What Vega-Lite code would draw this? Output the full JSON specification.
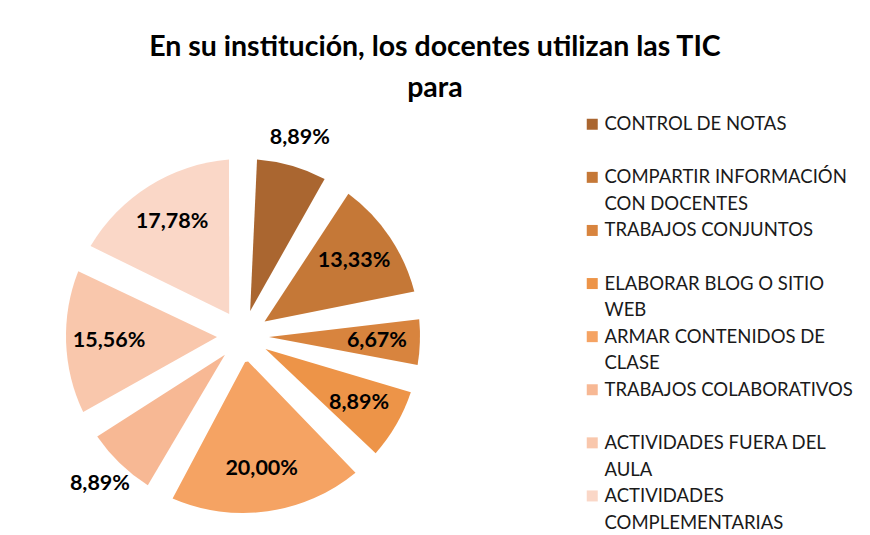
{
  "$schema": "https://vega.github.io/schema/vega-lite/v6.json",
  "width": 484,
  "height": 442,
  "autosize": {"type": "pad"},
  "padding": {"left": 0, "top": 32, "right": 10, "bottom": 0},
  "background": "white",
  "config": {"style": {"guide-label": {"lineHeight": 26.7}}},
  "title": {
    "text": ["En su institución, los docentes utilizan las TIC", "para"],
    "font": "Lato",
    "fontSize": 28.5,
    "fontWeight": "bold",
    "color": "#000000",
    "lineHeight": 41,
    "anchor": "middle",
    "frame": "bounds",
    "offset": 13,
    "dx": 8
  },
  "data": {
    "values": [
      {"orden": 1, "uso": "CONTROL DE NOTAS", "porcentaje": 8.89},
      {"orden": 2, "uso": "COMPARTIR INFORMACIÓN CON DOCENTES", "porcentaje": 13.33},
      {"orden": 3, "uso": "TRABAJOS CONJUNTOS", "porcentaje": 6.67},
      {"orden": 4, "uso": "ELABORAR BLOG O SITIO WEB", "porcentaje": 8.89},
      {"orden": 5, "uso": "ARMAR CONTENIDOS DE CLASE", "porcentaje": 20.00},
      {"orden": 6, "uso": "TRABAJOS COLABORATIVOS", "porcentaje": 8.89},
      {"orden": 7, "uso": "ACTIVIDADES FUERA DEL AULA", "porcentaje": 15.56},
      {"orden": 8, "uso": "ACTIVIDADES COMPLEMENTARIAS", "porcentaje": 17.78}
    ]
  },
  "transform": [
    {"calculate": "replace(format(datum.porcentaje, '.2f'), '.', ',') + '%'", "as": "etiqueta"}
  ],
  "encoding": {
    "theta": {"field": "porcentaje", "type": "quantitative", "stack": true},
    "order": {"field": "orden", "type": "quantitative"},
    "color": {
      "field": "uso",
      "type": "nominal",
      "scale": {
        "domain": ["CONTROL DE NOTAS", "COMPARTIR INFORMACIÓN CON DOCENTES", "TRABAJOS CONJUNTOS", "ELABORAR BLOG O SITIO WEB", "ARMAR CONTENIDOS DE CLASE", "TRABAJOS COLABORATIVOS", "ACTIVIDADES FUERA DEL AULA", "ACTIVIDADES COMPLEMENTARIAS"],
        "range": ["#AA6630", "#C57837", "#D8843E", "#ED9448", "#F5A363", "#F7B894", "#F9C7AC", "#FAD7C7"]
      },
      "legend": {
        "title": null,
        "orient": "right",
        "offset": 98,
        "padding": 0,
        "symbolType": "square",
        "symbolSize": 121,
        "symbolStrokeWidth": 0,
        "labelFont": "Lato",
        "labelFontSize": 18.5,
        "labelColor": "#1a1a1a",
        "labelLimit": 400,
        "labelOffset": 3,
        "labelBaseline": "middle",
        "rowPadding": 7.1,
        "labelExpr": "datum.label == 'COMPARTIR INFORMACIÓN CON DOCENTES' ? ['COMPARTIR INFORMACIÓN', 'CON DOCENTES'] : datum.label == 'ELABORAR BLOG O SITIO WEB' ? ['ELABORAR BLOG O SITIO', 'WEB'] : datum.label == 'ARMAR CONTENIDOS DE CLASE' ? ['ARMAR CONTENIDOS DE', 'CLASE'] : datum.label == 'ACTIVIDADES FUERA DEL AULA' ? ['ACTIVIDADES FUERA DEL', 'AULA'] : datum.label == 'ACTIVIDADES COMPLEMENTARIAS' ? ['ACTIVIDADES', 'COMPLEMENTARIAS'] : [datum.label, ' ']"
      }
    }
  },
  "layer": [
    {"mark": {"type": "arc", "radius": 177, "innerRadius": 26, "padAngle": 0.157, "stroke": null}},
    {
      "mark": {"type": "text", "radius": 134, "font": "Lato", "fontSize": 21.5, "fontWeight": "bold"},
      "encoding": {
        "text": {"field": "etiqueta"},
        "color": {"value": "#000000"},
        "opacity": {"condition": {"test": "datum.uso == 'CONTROL DE NOTAS' || datum.uso == 'TRABAJOS COLABORATIVOS'", "value": 0}, "value": 1}
      }
    },
    {
      "mark": {"type": "text", "radius": 206, "font": "Lato", "fontSize": 21.5, "fontWeight": "bold"},
      "encoding": {
        "text": {"field": "etiqueta"},
        "color": {"value": "#000000"},
        "opacity": {"condition": {"test": "datum.uso == 'CONTROL DE NOTAS' || datum.uso == 'TRABAJOS COLABORATIVOS'", "value": 1}, "value": 0}
      }
    }
  ]
}
